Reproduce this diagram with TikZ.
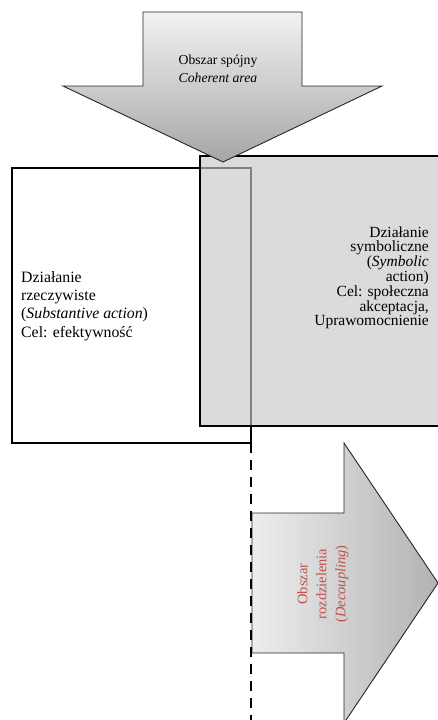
\documentclass[tikz,border=0pt]{standalone}
\usepackage{fontspec}
\setmainfont{Liberation Serif}
\usetikzlibrary{calc,positioning}

\definecolor{boxgray}{gray}{0.78}
\definecolor{splitred}{RGB}{192,80,77}

\begin{document}
\begin{tikzpicture}[
  x=1pt, y=-1pt,
  font=\fontsize{15.8}{18.3}\selectfont,
  frame/.style={draw=black, line width=2pt},
  blockarrow/.style={draw=black!85, line width=0.9pt, line join=miter},
  label/.style={inner sep=0pt, align=left},
  divide/.style={draw=black, line width=1.6pt, dash pattern=on 10pt off 7pt}
]
  \useasboundingbox (0,0) rectangle (437,720);

  % substantive action box
  \draw[frame] (12,168) rectangle (251,443);
  \coordinate (realcorner) at (251,443);
  \node[label, anchor=west] (real) at (21,306)
    {Działanie\\rzeczywiste\\(\textit{Substantive action})\\Cel: efektywność};

  % symbolic action box, laid over the first one
  \draw[frame, fill=boxgray, fill opacity=0.65] (200,156) rectangle (470,426);
  \node[label, align=right, anchor=east, font=\fontsize{15.5}{14}\selectfont]
    (symbolic) at (429,278)
    {Działanie\\symboliczne\\(\textit{Symbolic}\\action)\\Cel: społeczna\\akceptacja,\\Uprawomocnienie};

  % coherent area arrow
  \draw[blockarrow, top color=black!5, bottom color=black!35]
    (143,12) -- (302,12) -- (302,86) -- (382,86) -- (223,162) -- (63,86)
    -- (143,86) -- cycle;
  \node[label, align=center, font=\fontsize{13.7}{18}\selectfont]
    (coherent) at (218,69) {Obszar spójny\\\textit{Coherent area}};

  % decoupling arrow
  \draw[blockarrow, left color=black!7, right color=black!30]
    (252,513) -- (344,513) -- (344,443) -- (438,583) -- (344,723)
    -- (344,653) -- (252,653) -- cycle;
  \node[label, align=center, rotate=90, text=splitred,
    font=\fontsize{14.5}{19}\selectfont]
    (decoupling) at (323,584) {Obszar\\rozdzielenia\\(\textit{Decoupling})};

  \draw[divide] (realcorner) -- (realcorner |- 0,720);
\end{tikzpicture}
\end{document}
